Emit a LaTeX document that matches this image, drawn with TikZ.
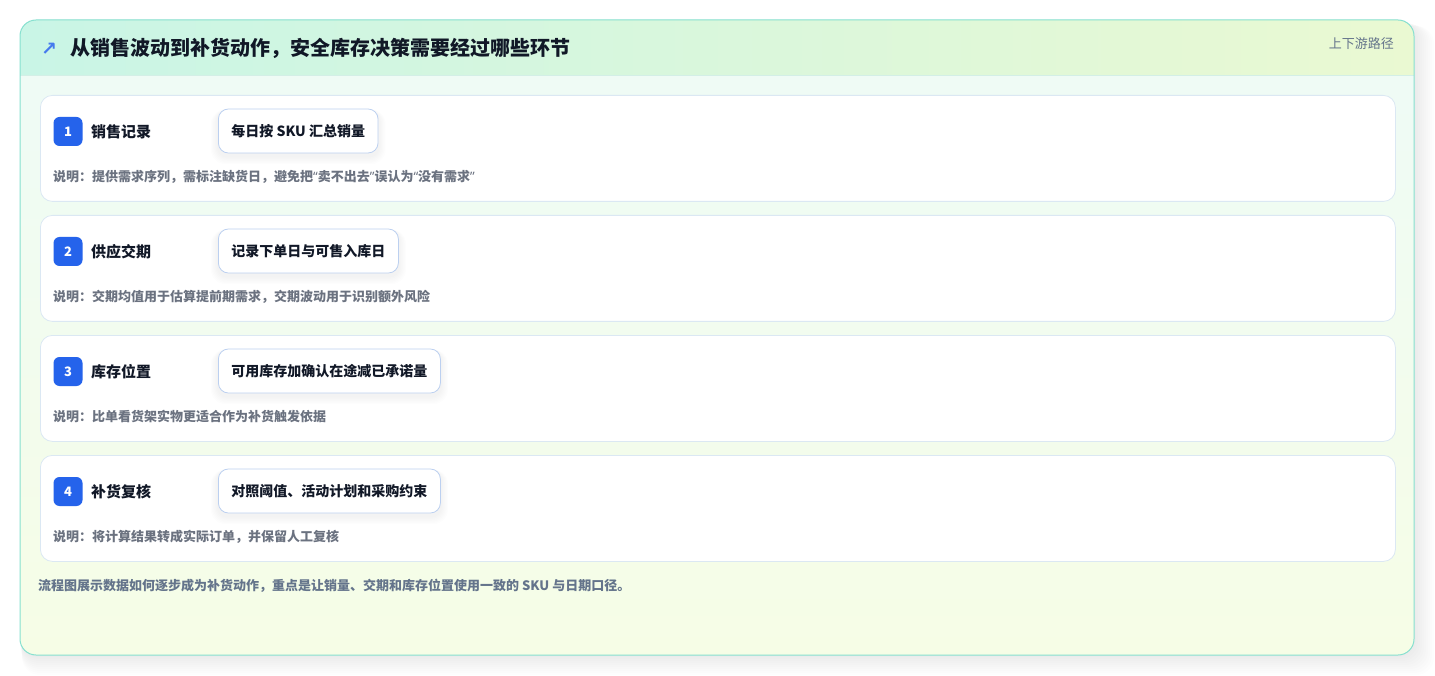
\documentclass[tikz,border=0pt]{standalone}
\usepackage{fontspec}
\setmainfont{Noto Sans CJK SC}
\newfontfamily\symfont{DejaVu Sans}
\newfontfamily\latfont{Noto Sans}
\definecolor{cardborder}{HTML}{DBE8F3}
\definecolor{outerborder}{HTML}{86E0CF}
\definecolor{pillborder}{HTML}{BCD0F0}
\definecolor{badgeblue}{HTML}{2563EB}
\definecolor{ink}{HTML}{111827}
\definecolor{descgray}{HTML}{6B7280}
\definecolor{footgray}{HTML}{64748B}
\definecolor{hdrleft}{HTML}{C9F5E6}
\definecolor{hdrright}{HTML}{EAF9D2}
\definecolor{bodytop}{HTML}{EEFBF7}
\definecolor{bodybot}{HTML}{F6FDE6}
\definecolor{hdrline}{HTML}{D3EFE6}
\newcommand\qo{{\latfont\char"201C}}
\newcommand\qc{{\latfont\char"201D}}
\tikzset{
  card/.style={draw=cardborder, line width=0.8pt, fill=white, rounded corners=12pt, minimum width=1355pt, minimum height=106pt, anchor=north west, inner sep=0pt},
  badge/.style={fill=badgeblue, rounded corners=6pt, minimum width=29pt, minimum height=29pt, inner sep=0pt, text=white, font=\bfseries\fontsize{13}{13}\selectfont},
  lbl/.style={anchor=west, inner sep=0pt, text=ink, font=\bfseries\fontsize{15}{15}\selectfont},
  pill/.style={draw=pillborder, line width=0.8pt, fill=white, rounded corners=10pt, anchor=west, inner xsep=13pt, minimum height=44pt, text=ink, font=\bfseries\fontsize{14}{14}\selectfont},
  desc/.style={anchor=west, inner sep=0pt, text=descgray, font=\bfseries\fontsize{13}{13}\selectfont},
}
\begin{document}
\begin{tikzpicture}[x=1pt,y=-1pt]
\useasboundingbox (0,0) rectangle (1435,676);
\fill[white] (0,0) rectangle (1435,676);
% outer shadow
\foreach \i in {1,...,10}{
  \fill[black, opacity=0.009, rounded corners=18pt] (20+\i*0.2,20+\i*0.6) rectangle (1414+\i*2,655+\i*2);
}
% outer card body
\shade[rounded corners=16pt, top color=bodytop, bottom color=bodybot] (20,20) rectangle (1414,655);
\begin{scope}
  \clip[rounded corners=16pt] (20,20) rectangle (1414,655);
  \shade[left color=hdrleft, right color=hdrright] (20,20) rectangle (1414,75);
  \draw[hdrline, line width=0.8pt] (20,75) -- (1414,75);
\end{scope}
\draw[outerborder, line width=1pt, rounded corners=16pt] (20,20) rectangle (1414,655);
% header
\node[anchor=west, inner sep=0pt, text=badgeblue!85!white, font=\symfont\bfseries\fontsize{19}{19}\selectfont] (arrow) at (41,49) {↗};
\node[anchor=west, inner sep=0pt, text=ink, font=\bfseries\fontsize{20}{20}\selectfont] (title) at (70,48.5) {从销售波动到补货动作，安全库存决策需要经过哪些环节};
\node[anchor=east, inner sep=0pt, text=footgray, font=\fontsize{13}{13}\selectfont] (route) at (1394,44) {上下游路径};
% steps
\foreach \n/\yy/\lab/\pil/\des in {
 1/95/销售记录/{每日按 SKU 汇总销量}/{说明：提供需求序列，需标注缺货日，避免把\qo 卖不出去\qc 误认为\qo 没有需求\qc},
 2/215/供应交期/{记录下单日与可售入库日}/{说明：交期均值用于估算提前期需求，交期波动用于识别额外风险},
 3/335/库存位置/{可用库存加确认在途减已承诺量}/{说明：比单看货架实物更适合作为补货触发依据},
 4/455/补货复核/{对照阈值、活动计划和采购约束}/{说明：将计算结果转成实际订单，并保留人工复核}}{
  \node[card] (c\n) at (40,\yy) {};
  \node[badge] (b\n) at (68,\yy+36.5) {\n};
  \node[lbl] (l\n) at (91,\yy+36.5) {\lab};
  \node[pill, opacity=0] (ps\n) at (218,\yy+36) {\pil};
  \foreach \k in {1,...,6}{
    \fill[black, opacity=0.008, rounded corners=10pt+\k*0.8pt] ([xshift=-\k*1.2pt, yshift=-2pt+\k*0.2pt]ps\n.north west) rectangle ([xshift=\k*1.2pt, yshift=-3pt-\k*1.3pt]ps\n.south east);
  }
  \node[pill] (p\n) at (218,\yy+36) {\pil};
  \node[desc] (d\n) at (53,\yy+82) {\des};
}
\node[anchor=west, inner sep=0pt, text=footgray, font=\bfseries\fontsize{13}{13}\selectfont] (foot) at (38,586) {流程图展示数据如何逐步成为补货动作，重点是让销量、交期和库存位置使用一致的 SKU 与日期口径。};
\end{tikzpicture}
\end{document}
